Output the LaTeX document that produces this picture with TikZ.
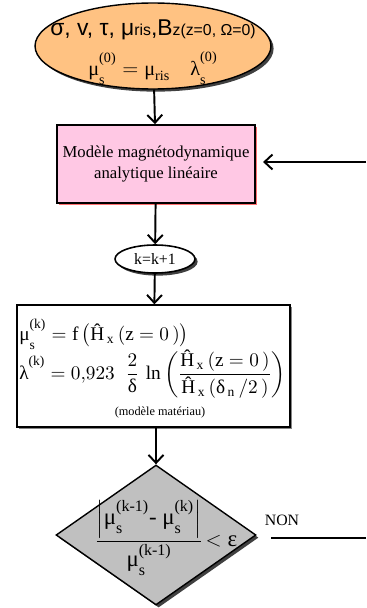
\documentclass[tikz,border=0pt]{standalone}
\usepackage{amsmath}
\usepackage{fontspec}
\setmainfont{Liberation Serif}
\newfontfamily\arialfont{Liberation Sans}
\usetikzlibrary{shapes.geometric,shadows,arrows.meta}
\definecolor{orangefill}{RGB}{255,194,130}
\definecolor{rosefill}{RGB}{255,200,228}
\definecolor{grisfill}{RGB}{192,192,192}
\newcommand{\tx}[1]{\text{#1}}
% indice et exposant un peu ecartes
\newcommand{\idx}[3]{\tx{#1}_{\raisebox{-2pt}{$\scriptstyle\tx{#2}$}}^{\raisebox{3pt}{$\scriptstyle\tx{#3}$}}}
\begin{document}
\begin{tikzpicture}[x=0.02cm,y=-0.02cm,
  flow/.style={-{Straight Barb[length=1.6mm,width=3mm]},line width=1.1pt},
  ombre/.style={drop shadow={shadow xshift=1.5pt,shadow yshift=-1.5pt,fill=black,opacity=0.75}},
  ombrerouge/.style={drop shadow={shadow xshift=1.2pt,shadow yshift=-1.2pt,fill=red!80,opacity=0.7}},
  ombregrise/.style={drop shadow={shadow xshift=1.4pt,shadow yshift=-1.4pt,fill=black!60,opacity=0.8}}]
\useasboundingbox (0,0) rectangle (366,608);
% donnees d'entree
\node[ellipse,draw,line width=0.8pt,fill=orangefill,minimum width=4.72cm,minimum height=1.72cm,inner sep=0,ombre] (donnees) at (153,46) {};
\node[align=center,inner sep=0] (donneestxt) at (153,52) {%
  {\arialfont\fontsize{13}{14}\selectfont σ, v, τ, μ{\fontsize{9}{10}\selectfont ris},B{\fontsize{9}{10}\selectfont z(z=0, Ω=0)}}\\[6pt]
  \fontsize{11.5}{12}\selectfont $\idx{μ}{s}{(0)} = \tx{μ}_{\tx{ris}}\quad \idx{λ}{s}{(0)}$};
% modele
\node[draw,line width=0.9pt,fill=rosefill,minimum width=3.76cm,minimum height=1.56cm,align=center,ombrerouge,
  font=\fontsize{9.5}{12}\selectfont] (modele) at (156,164) {Modèle magnétodynamique\\analytique linéaire};
\coordinate (retour) at (366,162);
% iteration
\node[ellipse,draw,line width=0.9pt,fill=white,minimum width=1.6cm,minimum height=0.56cm,inner sep=0,ombre,
  font=\fontsize{9}{10}\selectfont] (iter) at (155,259) {k=k+1};
% loi materiau
\node[draw,line width=0.8pt,fill=white,minimum width=5.46cm,minimum height=2.44cm,ombregrise] (materiau) at (153.5,366) {};
\node[anchor=west,inner sep=0,font=\fontsize{11}{12}\selectfont] (loi1) at (19,334)
  {$\idx{μ}{s}{(k)} = \tx{f}\,\bigl(\tx{Ĥ}_{\,\tx{x}}\,(\tx{z} = 0\,)\bigr)$};
\node[anchor=west,inner sep=0,font=\fontsize{11}{12}\selectfont] (loi2) at (19,374)
  {$\tx{λ}^{\raisebox{3pt}{$\scriptstyle\tx{(k)}$}} = 0{,}923\;\;\dfrac{2}{\tx{δ}}\,\ln\left(\dfrac{\tx{Ĥ}_{\,\tx{x}}\,(\tx{z} = 0\,)}{\tx{Ĥ}_{\,\tx{x}}\,(\tx{δ}_{\,\tx{n}}\,/2\,)}\right)$};
\node[inner sep=0,font=\fontsize{7}{8}\selectfont] (loinote) at (160,413) {(modèle matériau)};
% test de convergence
\node[diamond,draw,line width=0.8pt,fill=grisfill,minimum width=4cm,minimum height=2.8cm,inner sep=0,ombre] (test) at (156,535) {};
\node[inner sep=0,font=\fontsize{13}{15}\selectfont] (testtxt) at (166,538)
  {$\dfrac{\left|\idx{μ}{s}{(k-1)}\tx{- }\idx{μ}{s}{(k)}\right|}{\idx{μ}{s}{(k-1)}}\!< \tx{ε}$};
\node[font=\fontsize{9}{10}\selectfont,inner sep=0] (non) at (282,520) {NON};
\coordinate (nonA) at (271,538);
\coordinate (nonB) at (366,538);
% liaisons
\draw[flow] (donnees) -- (modele);
\draw[flow,shorten >=4pt] (retour) -- (modele.east |- retour);
\draw[flow] (modele) -- (iter);
\draw[flow] (iter) -- (materiau);
\draw[flow] (materiau.south -| test.north) -- (test);
\draw[line width=1.1pt] (nonA) -- (nonB);
\end{tikzpicture}
\end{document}
